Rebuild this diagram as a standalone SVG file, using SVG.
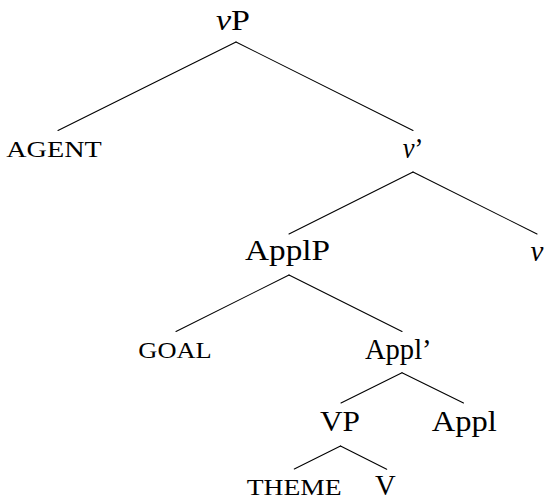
<svg xmlns="http://www.w3.org/2000/svg" width="545" height="501" viewBox="0 0 545 501">
<style>
.n{font-family:"Liberation Serif","Times New Roman",serif;font-size:29px;fill:#000;text-anchor:middle}
.sc{font-family:"Liberation Serif","Times New Roman",serif;font-size:23.5px;fill:#000;text-anchor:middle}
.i{font-style:italic}
.e{stroke:#000;stroke-width:1.1;fill:none;stroke-linecap:round}
</style>
<rect width="545" height="501" fill="#fff"/>
<g id="connectors">
<line class="e" x1="236" y1="42" x2="58" y2="130.5"/>
<line class="e" x1="236" y1="42" x2="413" y2="130.5"/>
<line class="e" x1="413" y1="172" x2="289" y2="234"/>
<line class="e" x1="413" y1="172" x2="537" y2="234"/>
<line class="e" x1="289" y1="275" x2="176" y2="331.5"/>
<line class="e" x1="289" y1="275" x2="402" y2="331.5"/>
<line class="e" x1="402" y1="372.7" x2="341" y2="403"/>
<line class="e" x1="402" y1="372.7" x2="463.5" y2="403"/>
<line class="e" x1="340.5" y1="446" x2="294.3" y2="469"/>
<line class="e" x1="340.5" y1="446" x2="386.7" y2="469.3"/>
</g>
<g id="vP"><text class="n" x="233" y="29.5" textLength="34" lengthAdjust="spacingAndGlyphs"><tspan class="i">v</tspan>P</text></g>
<g id="agent"><text class="sc" x="54" y="157" textLength="95.5" lengthAdjust="spacingAndGlyphs">AGENT</text></g>
<g id="vbar"><text class="n" x="413" y="158" textLength="20.6" lengthAdjust="spacingAndGlyphs"><tspan class="i">v</tspan>’</text></g>
<g id="ApplP"><text class="n" x="287.5" y="260" textLength="85" lengthAdjust="spacingAndGlyphs">ApplP</text></g>
<g id="v"><text class="n i" x="537" y="260.5">v</text></g>
<g id="goal"><text class="sc" x="175" y="358.3" textLength="73.4" lengthAdjust="spacingAndGlyphs">GOAL</text></g>
<g id="Applbar"><text class="n" x="398.3" y="359" textLength="66.7" lengthAdjust="spacingAndGlyphs">Appl’</text></g>
<g id="VP"><text class="n" x="340" y="430.7" textLength="40" lengthAdjust="spacingAndGlyphs">VP</text></g>
<g id="Appl"><text class="n" x="464.2" y="430.7" textLength="65" lengthAdjust="spacingAndGlyphs">Appl</text></g>
<g id="theme"><text class="sc" x="294.2" y="494.5" textLength="95" lengthAdjust="spacingAndGlyphs">THEME</text></g>
<g id="V"><text class="n" x="385.3" y="494.5" textLength="20.7" lengthAdjust="spacingAndGlyphs">V</text></g>
</svg>
